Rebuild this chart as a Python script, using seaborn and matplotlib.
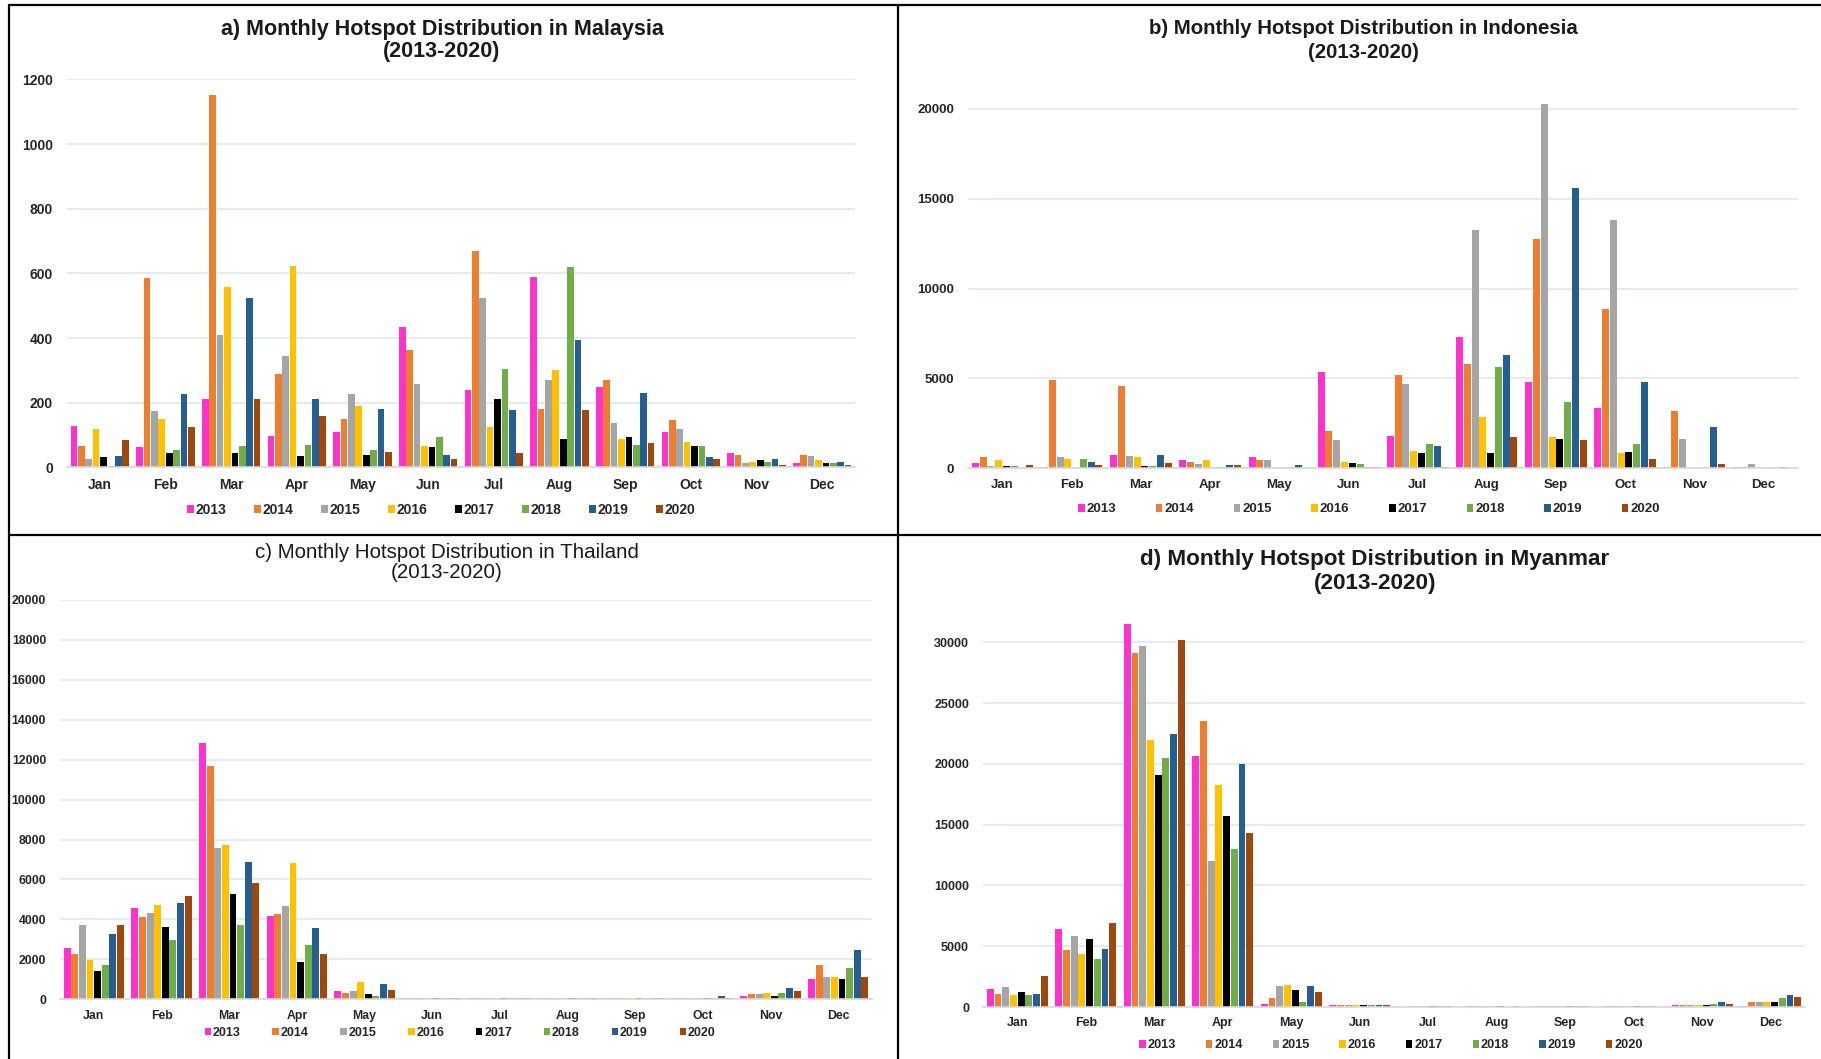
# Se importa matplotlib para crear los gráficos
import matplotlib
matplotlib.use("Agg")
import matplotlib.pyplot as plt
from matplotlib.lines import Line2D
# Se importa seaborn para las barras agrupadas
import seaborn as sns
import pandas as pd

# Meses y años que se comparan en los cuatro paneles
meses = ["Jan", "Feb", "Mar", "Apr", "May", "Jun",
         "Jul", "Aug", "Sep", "Oct", "Nov", "Dec"]
anios = ["2013", "2014", "2015", "2016", "2017", "2018", "2019", "2020"]
colores_anios = ["#FF33CC", "#ED7D31", "#A5A5A5", "#FFC000",
                 "#000000", "#70AD47", "#255E91", "#9E480E"]

# Puntos calientes por año (filas) y mes (columnas)
valores_malasia = [
    [129, 63, 213, 97, 111, 435, 239, 588, 249, 111, 45, 14],
    [66, 585, 1152, 288, 150, 364, 669, 182, 271, 146, 40, 40],
    [27, 174, 409, 346, 226, 257, 523, 271, 138, 120, 14, 36],
    [120, 150, 558, 624, 191, 67, 124, 301, 89, 79, 18, 22],
    [31, 44, 44, 36, 40, 63, 213, 89, 93, 67, 22, 13],
    [5, 53, 67, 70, 53, 93, 306, 620, 71, 67, 18, 13],
    [36, 226, 523, 213, 182, 40, 178, 395, 231, 31, 27, 18],
    [84, 124, 213, 160, 49, 27, 44, 178, 75, 27, 9, 9],
]
valores_indonesia = [
    [280, 90, 750, 430, 600, 5380, 1800, 7330, 4810, 3350, 90, 90],
    [600, 4930, 4600, 360, 430, 2050, 5170, 5790, 12780, 8890, 3200, 90],
    [130, 600, 700, 260, 430, 1580, 4660, 13270, 20250, 13820, 1640, 260],
    [430, 530, 600, 430, 0, 360, 940, 2860, 1730, 850, 0, 90],
    [130, 0, 110, 20, 0, 280, 850, 850, 1640, 920, 0, 0],
    [110, 530, 110, 90, 90, 240, 1320, 5640, 3680, 1320, 0, 0],
    [30, 360, 750, 190, 190, 90, 1240, 6280, 15620, 4810, 2290, 90],
    [190, 190, 280, 190, 0, 90, 90, 1730, 1580, 530, 260, 0],
]
valores_tailandia = [
    [2560, 4570, 12830, 4180, 410, 80, 60, 60, 60, 60, 150, 1020],
    [2250, 4110, 11680, 4270, 320, 80, 60, 60, 60, 60, 240, 1710],
    [3720, 4330, 7570, 4660, 410, 80, 60, 60, 60, 60, 240, 1100],
    [1950, 4720, 7740, 6810, 850, 80, 60, 60, 60, 60, 320, 1100],
    [1400, 3640, 5270, 1860, 240, 80, 80, 80, 80, 80, 150, 1020],
    [1710, 2950, 3720, 2710, 170, 80, 60, 60, 60, 60, 320, 1560],
    [3270, 4810, 6890, 3560, 780, 80, 60, 60, 60, 150, 540, 2470],
    [3720, 5180, 5810, 2250, 470, 80, 60, 60, 60, 80, 410, 1100],
]
valores_myanmar = [
    [1475, 6460, 31480, 20650, 280, 150, 0, 120, 120, 120, 140, 80],
    [1110, 4680, 29110, 23570, 700, 150, 0, 120, 120, 120, 140, 420],
    [1610, 5840, 29670, 12050, 1730, 150, 120, 120, 120, 120, 140, 390],
    [970, 4400, 21980, 18260, 1840, 150, 120, 120, 120, 120, 140, 390],
    [1220, 5570, 19090, 15750, 1360, 150, 120, 120, 120, 120, 140, 390],
    [970, 3980, 20510, 13000, 420, 150, 120, 0, 120, 120, 250, 700],
    [1110, 4760, 22490, 20010, 1730, 150, 120, 120, 120, 120, 420, 970],
    [2530, 6900, 30170, 14300, 1220, 150, 0, 0, 0, 0, 280, 830],
]

# Tamaño del lienzo en píxeles
ANCHO, ALTO = 1821, 1059

sns.set_theme(style="white")
plt.rcParams["font.family"] = ["Liberation Sans", "DejaVu Sans"]


def a_tabla(valores):
    # Pasa la matriz año x mes a formato largo para seaborn
    filas = []
    for anio, serie in zip(anios, valores):
        for mes, valor in zip(meses, serie):
            filas.append({"mes": mes, "anio": anio, "valor": valor})
    return pd.DataFrame(filas)


def dibujar_panel(figura, valores, caja, y_max, ticks, titulos, titulo_x,
                  titulo_ys, tam_titulo, peso_titulo, tam_ejes,
                  leyenda_xy, tam_leyenda, espacio_leyenda):
    # caja = (x izquierda, x derecha, y del tope, y del cero) en píxeles
    x0, x1, y_top, y_cero = caja
    area = figura.add_axes([x0 / ANCHO, 1 - y_cero / ALTO,
                            (x1 - x0) / ANCHO, (y_cero - y_top) / ALTO])
    sns.barplot(data=a_tabla(valores), x="mes", y="valor", hue="anio",
                order=meses, hue_order=anios, palette=colores_anios,
                width=0.9, gap=0.1, ax=area, linewidth=0, saturation=1)
    area.set_xlim(-0.5, 11.5)
    area.set_ylim(0, y_max)
    area.set_yticks(ticks)
    area.set_yticklabels([str(t) for t in ticks], fontsize=tam_ejes,
                         fontweight="bold", color="#262626")
    area.set_xticks(range(12))
    area.set_xticklabels(meses, fontsize=tam_ejes, fontweight="bold",
                         color="#262626")
    area.tick_params(axis="both", length=0)
    area.tick_params(axis="x", pad=7.5)
    area.tick_params(axis="y", pad=10)
    area.set_xlabel("")
    area.set_ylabel("")
    # Cuadrícula horizontal suave como en Excel
    area.grid(axis="y", color="#E3E6EA", linewidth=1.2)
    area.set_axisbelow(True)
    for lado in ["top", "right", "left"]:
        area.spines[lado].set_visible(False)
    area.spines["bottom"].set_color("#D9D9D9")
    area.spines["bottom"].set_linewidth(1.2)

    # Leyenda horizontal bajo los meses
    manejadores, etiquetas = area.get_legend_handles_labels()
    area.get_legend().remove()
    area.legend(manejadores, etiquetas, ncol=8, loc="center",
                bbox_to_anchor=(leyenda_xy[0] / ANCHO, 1 - leyenda_xy[1] / ALTO),
                bbox_transform=figura.transFigure, frameon=False,
                handlelength=0.5, handleheight=0.5, handletextpad=0.15,
                columnspacing=espacio_leyenda,
                prop={"size": tam_leyenda, "weight": "bold"})
    for texto in area.get_legend().get_texts():
        texto.set_color("#262626")

    # Título de dos líneas centrado sobre el panel
    for linea_titulo, y_linea in zip(titulos, titulo_ys):
        figura.text(titulo_x / ANCHO, 1 - y_linea / ALTO, linea_titulo,
                    ha="center", va="center", fontsize=tam_titulo,
                    fontweight=peso_titulo, color="#1a1a1a")


figura = plt.figure(figsize=(ANCHO / 100, ALTO / 100), dpi=100)
figura.patch.set_facecolor("white")

dibujar_panel(figura, valores_malasia, (67, 855, 79.4, 467.5), 1200,
              list(range(0, 1201, 200)),
              ["a) Monthly Hotspot Distribution in Malaysia", "(2013-2020)"],
              442, (29, 51), 15.5, "bold", 10, (441, 509.5), 10, 1.95)
dibujar_panel(figura, valores_indonesia, (968, 1798, 73, 468.2), 22000,
              list(range(0, 20001, 5000)),
              ["b) Monthly Hotspot Distribution in Indonesia", "(2013-2020)"],
              1363, (29, 52.5), 14.7, "bold", 9.5, (1369, 509.5), 9.5, 3.0)
dibujar_panel(figura, valores_tailandia, (60, 872, 600, 999.2), 20000,
              list(range(0, 20001, 2000)),
              ["c) Monthly Hotspot Distribution in Thailand", "(2013-2020)"],
              447, (552, 572), 14.8, "normal", 8.8, (460, 1033), 9, 2.55)
dibujar_panel(figura, valores_myanmar, (983, 1805, 606, 1007), 33000,
              list(range(0, 30001, 5000)),
              ["d) Monthly Hotspot Distribution in Myanmar", "(2013-2020)"],
              1375, (559.5, 583.5), 16.2, "bold", 9, (1391, 1045.5), 9.2, 2.35)

# Bordes negros que separan los cuatro paneles
def linea(x_a, y_a, x_b, y_b):
    figura.add_artist(Line2D([x_a / ANCHO, x_b / ANCHO],
                             [1 - y_a / ALTO, 1 - y_b / ALTO],
                             color="black", linewidth=1.6,
                             transform=figura.transFigure))

linea(9, 5, 1821, 5)
linea(9, 5, 9, 1059)
linea(898, 5, 898, 1059)
linea(9, 535, 1821, 535)

figura.savefig("out.png", dpi=100, facecolor="white")
plt.close(figura)
